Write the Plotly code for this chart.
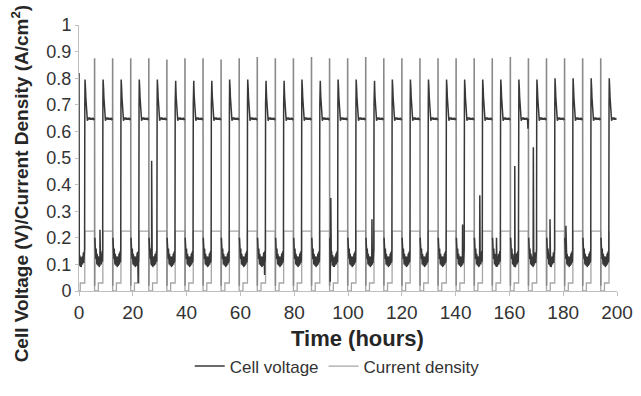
import plotly.graph_objects as go

# ---- data ----
# times (h) at which the load is switched off (start of each cycle)
cycle_times = [-0.94, 5.78, 12.50, 19.22, 25.94, 32.66, 39.38, 46.10, 52.82, 59.54,
               66.26, 72.98, 79.70, 86.42, 93.14, 99.86, 106.58, 113.30, 120.02,
               126.74, 133.46, 140.18, 146.90, 153.62, 160.34, 167.06, 173.78,
               180.50, 187.22, 193.94]
# open-circuit spike at load-off (V)
ocv_spike = [0.82, 0.875, 0.875, 0.875, 0.875, 0.87, 0.875, 0.875, 0.87, 0.875,
             0.88, 0.875, 0.875, 0.88, 0.875, 0.875, 0.88, 0.875, 0.875, 0.875,
             0.875, 0.875, 0.875, 0.875, 0.88, 0.875, 0.875, 0.875, 0.875, 0.875]
# start-up voltage peak of each cycle (V)
startup_peak = [0.795, 0.795, 0.795, 0.795, 0.795, 0.79, 0.79, 0.79, 0.795, 0.795,
                0.79, 0.79, 0.795, 0.79, 0.795, 0.795, 0.79, 0.795, 0.795, 0.795,
                0.795, 0.795, 0.795, 0.795, 0.795, 0.795, 0.80, 0.80, 0.80, 0.80]

# load-off transient within a cycle (hours after load-off, V); None = per-cycle spike
off_offset = [0.00, 0.01, 0.05, 0.09]
off_shape = [0.648, None, 0.02, 0.20]

# shut-down / start-up / load section (hours after load-off, V); None = per-cycle peak
v_offset = [0.10, 0.18, 0.26, 0.34, 0.42, 0.50, 0.58, 0.66, 0.76, 0.86, 0.96,
            1.06, 1.16, 1.28, 1.40, 1.52, 1.64, 1.76, 1.88, 2.00, 2.12, 2.24,
            2.36, 2.48, 2.60, 2.72, 2.84, 2.94, 3.02, 3.10, 3.14, 3.18, 3.22,
            3.28, 3.36, 3.46, 3.58, 3.72, 3.88, 4.05, 4.30, 4.60, 4.90, 5.20,
            5.50, 5.80, 6.10, 6.40, 6.71]
v_shape = [0.20, 0.15, 0.19, 0.13, 0.17, 0.12, 0.16, 0.11, 0.15, 0.10, 0.14,
           0.095, 0.135, 0.095, 0.13, 0.09, 0.125, 0.09, 0.13, 0.095, 0.13, 0.10,
           0.14, 0.10, 0.145, 0.105, 0.15, 0.11, 0.16, 0.70, 0.76, None, 0.77,
           0.79, 0.76, 0.73, 0.70, 0.675, 0.655, 0.64, 0.652, 0.645, 0.652,
           0.644, 0.650, 0.644, 0.651, 0.645, 0.648]

# recording starts on an open-circuit reading (h, V)
start_t = [0.0, 0.04]
start_v = [0.82, 0.20]

# current density shape within one cycle (hours after load-off, A/cm2)
i_offset = [0.00, 0.01, 1.40, 1.41, 3.09, 3.10, 6.71]
i_shape = [0.225, 0.0, 0.0, 0.03, 0.03, 0.225, 0.225]

# isolated voltage excursions (time h, V)
excursions_t = [7.8, 22.0, 27.0, 69.0, 93.4, 93.6, 108.9, 142.6, 149.0, 155.2,
                162.0, 166.9, 168.9, 175.1, 181.0]
excursions_v = [0.23, 0.03, 0.49, 0.06, 0.035, 0.35, 0.27, 0.25, 0.36, 0.20,
                0.47, 0.61, 0.54, 0.27, 0.245]

t_end = 200.0

# ---- build series ----
main_pts = list(zip(start_t, start_v))
for k, T in enumerate(cycle_times):
    for o, val in zip(v_offset, v_shape):
        if val is None:
            val = startup_peak[k]
        if 0.1 < T + o <= t_end:
            main_pts.append((T + o, val))
main_pts += list(zip(excursions_t, excursions_v))
main_pts.sort()

# break the main trace where the load-off transients are drawn
vt, vv = [], []
tall = [T for T in cycle_times if T > 0]
ti = 0
for t, v in main_pts:
    while ti < len(tall) and t > tall[ti]:
        vt.append(None)
        vv.append(None)
        ti += 1
    vt.append(t)
    vv.append(v)

st, sv = [], []
for k, T in enumerate(cycle_times):
    if T <= 0:
        continue
    for o, val in zip(off_offset, off_shape):
        st.append(T + o)
        sv.append(ocv_spike[k] if val is None else val)
    st.append(None)
    sv.append(None)

it, iv = [0.0], [0.0]
for T in cycle_times:
    for o, val in zip(i_offset, i_shape):
        if 0.0 < T + o <= t_end:
            it.append(T + o)
            iv.append(val)

fig = go.Figure()
fig.add_trace(go.Scatter(x=it, y=iv, mode="lines", name="Current density",
                         line=dict(color="#a6a6a6", width=1.3), showlegend=False))
fig.add_trace(go.Scatter(x=st, y=sv, mode="lines", name="Cell voltage",
                         line=dict(color="#8a8a8a", width=1.6), showlegend=False,
                         connectgaps=False))
fig.add_trace(go.Scatter(x=vt, y=vv, mode="lines", name="Cell voltage",
                         line=dict(color="#383838", width=1.5), connectgaps=False))
fig.add_trace(go.Scatter(x=[None], y=[None], mode="lines", name="Current density",
                         line=dict(color="#a6a6a6", width=1.3)))

x_ticks = [0, 20, 40, 60, 80, 100, 120, 140, 160, 180, 200]
y_ticks = [0, 0.1, 0.2, 0.3, 0.4, 0.5, 0.6, 0.7, 0.8, 0.9, 1]
y_text = ["0", "0.1", "0.2", "0.3", "0.4", "0.5", "0.6", "0.7", "0.8", "0.9", "1"]

narrow = "Liberation Sans Narrow, Arial Narrow, Liberation Sans, Arial, sans-serif"
regular = "Liberation Sans, Arial, sans-serif"
fig.update_layout(
    width=641, height=396,
    margin=dict(l=79, r=24, t=25, b=93),
    paper_bgcolor="white", plot_bgcolor="white",
    font=dict(family=narrow, color="#333333", size=18),
    showlegend=True,
    legend=dict(orientation="h", x=0.48, xanchor="center", y=-0.284, yanchor="middle",
                font=dict(family=narrow, size=17, color="#333333"),
                bgcolor="rgba(0,0,0,0)", tracegroupgap=0),
    xaxis=dict(range=[0, 200], tickvals=x_ticks, ticktext=[str(v) for v in x_ticks],
               showgrid=False, zeroline=False, showline=True, linecolor="#bfbfbf",
               linewidth=1, ticks="outside", ticklen=4, tickcolor="#bfbfbf",
               tickfont=dict(family=narrow, size=19), automargin=False),
    yaxis=dict(range=[0, 1], tickvals=y_ticks, ticktext=y_text,
               showgrid=False, zeroline=False, showline=True, linecolor="#bfbfbf",
               linewidth=1, ticks="outside", ticklen=3, tickcolor="#bfbfbf",
               tickfont=dict(family=narrow, size=18), automargin=False),
    annotations=[
        dict(text="<b>Time (hours)</b>", xref="paper", yref="paper", x=0.517, y=-0.18,
             xanchor="center", yanchor="middle", showarrow=False,
             font=dict(family=regular, size=22, color="#262626")),
        dict(text="<b>Cell Voltage (V)/Current Density (A/cm<sup>2</sup>)</b>",
             xref="paper", yref="paper", x=-0.109, y=0.406, textangle=-90,
             xanchor="center", yanchor="middle", showarrow=False,
             font=dict(family=regular, size=19, color="#262626")),
    ],
)

fig.write_html("out.html",
               config={"displayModeBar": False},
               post_script="document.body.style.margin='0px';"
                           "document.body.style.overflow='hidden';")
